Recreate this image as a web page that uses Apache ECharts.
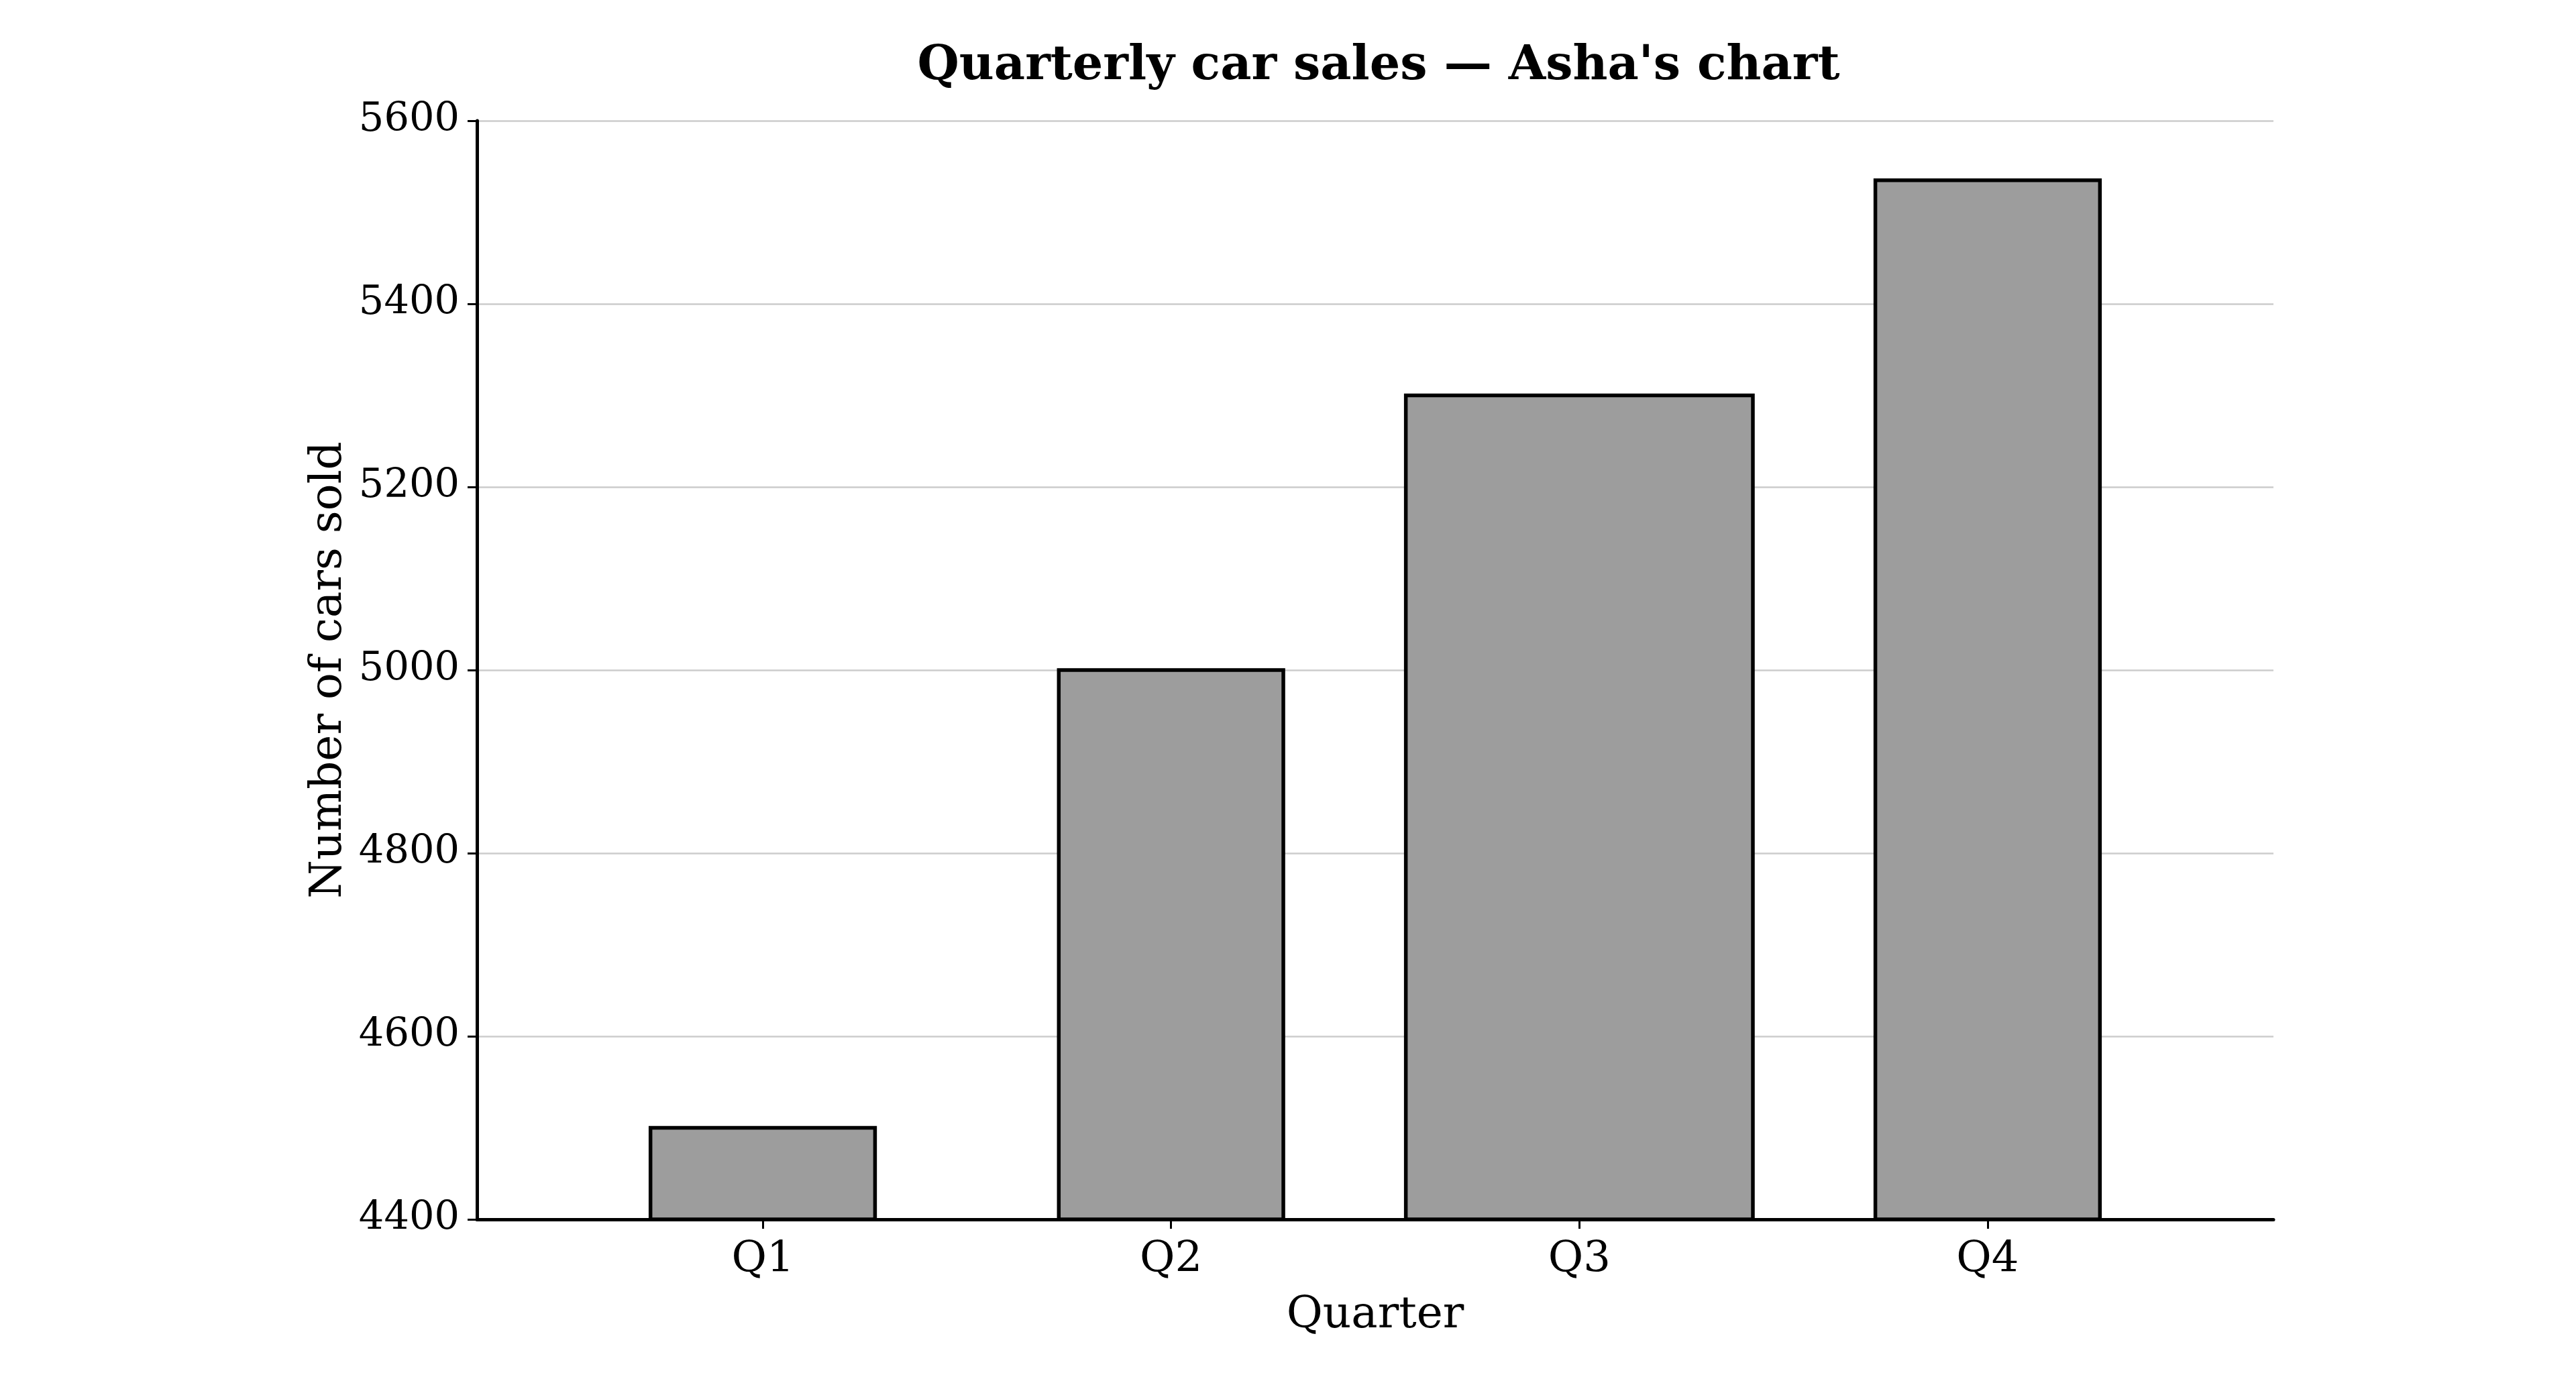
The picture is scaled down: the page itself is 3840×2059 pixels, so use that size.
<!DOCTYPE html>
<html>
<head>
<meta charset="utf-8">
<script src="https://cdn.jsdelivr.net/npm/echarts@6/dist/echarts.min.js"></script>
<style>html,body{margin:0;padding:0;background:#fff;}#chart{width:3840px;height:2059px;}</style>
</head>
<body>
<div id="chart"></div>
<script>
// ---- data ----
const quarters = ['Q1', 'Q2', 'Q3', 'Q4'];
const carsSold = [4500, 5000, 5300, 5535];
const yAxisMin = 4400;
const yAxisMax = 5600;
const yAxisStep = 200;
const titleText = "Quarterly car sales \u2014 Asha's chart";
const xAxisTitle = 'Quarter';
const yAxisTitle = 'Number of cars sold';

// ---- style ----
const FONT = '"DejaVu Serif", "Liberation Serif", serif';
const BAR_W = 0.55;            // bar width in category units
const WIDE_BAR = { Q3: 0.85 }; // Q3 drawn wider in the original

const chart = echarts.init(document.getElementById('chart'), null, { renderer: 'canvas' });

const option = {
  backgroundColor: '#ffffff',
  animation: false,
  title: {
    text: titleText,
    left: 2050,
    top: 58,
    textAlign: 'center',
    textStyle: { fontFamily: FONT, fontWeight: 'bold', fontSize: 71.5, color: '#000' }
  },
  grid: { left: 711, right: 451, top: 180, bottom: 241, containLabel: false },
  xAxis: {
    type: 'value',
    min: -0.7,
    max: 3.7,
    name: xAxisTitle,
    nameLocation: 'middle',
    nameGap: 111,
    nameTextStyle: { fontFamily: FONT, fontSize: 66, color: '#000' },
    axisLine: { show: true, onZero: false, lineStyle: { color: '#000', width: 5 } },
    axisTick: { show: true, customValues: quarters.map((q, i) => i), length: 14, lineStyle: { color: '#000', width: 3 } },
    axisLabel: {
      show: true,
      customValues: quarters.map((q, i) => i),
      formatter: v => quarters[Math.round(v)] || '',
      fontFamily: FONT, fontSize: 64, color: '#000', margin: 29
    },
    splitLine: { show: false }
  },
  yAxis: {
    type: 'value',
    min: yAxisMin,
    max: yAxisMax,
    interval: yAxisStep,
    name: yAxisTitle,
    nameLocation: 'middle',
    nameGap: 185,
    nameTextStyle: { fontFamily: FONT, fontSize: 66, color: '#000' },
    axisLine: { show: true, onZero: false, lineStyle: { color: '#000', width: 5 } },
    axisTick: { show: true, length: 14, lineStyle: { color: '#000', width: 3 } },
    axisLabel: { fontFamily: FONT, fontSize: 59, color: '#000', margin: 26, formatter: v => String(v) },
    splitLine: { show: true, lineStyle: { color: '#cccccc', width: 2.5 } }
  },
  series: [{
    type: 'custom',
    clip: false,
    encode: { x: 0, y: 1 },
    data: quarters.map((q, i) => [i, carsSold[i]]),
    renderItem: function (params, api) {
      const i = api.value(0);
      const v = api.value(1);
      const top = api.coord([i, v]);
      const base = api.coord([i, yAxisMin]);
      const frac = WIDE_BAR[quarters[i]] || BAR_W;
      const w = api.size([frac, 0])[0];
      return {
        type: 'rect',
        shape: { x: top[0] - w / 2, y: top[1], width: w, height: base[1] - top[1] },
        style: { fill: '#9d9d9d', stroke: '#000000', lineWidth: 5.5 }
      };
    },
    z: 3
  }]
};
chart.setOption(option);
</script>
</body>
</html>
